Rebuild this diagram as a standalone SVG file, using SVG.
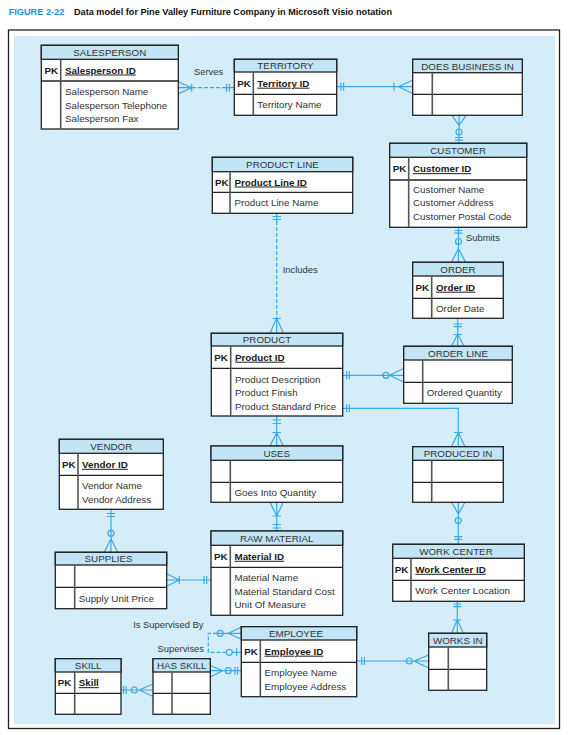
<svg xmlns="http://www.w3.org/2000/svg" width="568" height="735" viewBox="0 0 568 735">
<style>
.bx{fill:#fff;stroke:#222;stroke-width:1.3}
.hd{fill:#c2e5f6;stroke:#222;stroke-width:1.3}
.ln{stroke:#222;stroke-width:1.3}
.dv{stroke:#555;stroke-width:1.6}
.t{font-family:"Liberation Sans",Arial,sans-serif;font-size:9.8px;fill:#333}
.hc{text-anchor:middle}
.b{font-weight:bold;fill:#1a1a1a}
.u{text-decoration:underline}
.lb{font-family:"Liberation Sans",Arial,sans-serif;font-size:9.4px;fill:#333}
.c{stroke:#3aa9e4;stroke-width:1.2;fill:none}
.d{stroke-dasharray:4 2}
.o{stroke:#3aa9e4;stroke-width:1.2;fill:none}
</style>
<rect x="0" y="0" width="568" height="735" fill="#fff"/>
<text x="8.7" y="15.2" font-family="Liberation Sans,Arial,sans-serif" font-weight="bold" font-size="8.6" fill="#1e8fd6" textLength="55.6" lengthAdjust="spacingAndGlyphs">FIGURE 2-22</text>
<text x="74" y="15.2" font-family="Liberation Sans,Arial,sans-serif" font-weight="bold" font-size="8.6" fill="#111" textLength="318" lengthAdjust="spacingAndGlyphs">Data model for Pine Valley Furniture Company in Microsoft Visio notation</text>
<rect x="8.5" y="30" width="551" height="698.5" fill="#fff" stroke="#222" stroke-width="1.3"/>
<rect x="14" y="36" width="541" height="688" fill="#d4edf9"/>

<g id="connectors">
<!-- Serves -->
<path class="c d" d="M192,87.7 H226"/>
<path class="c" d="M178.3,87.7 H192 M178.3,81.7 L191.7,87.7 L178.3,93.7 M191.7,83.7 V91.7 M225,87.7 H234.3 M226.5,83.7 V91.7 M229.3,83.7 V91.7"/>
<!-- Territory - Does business in -->
<path class="c" d="M336.7,86.7 H412.7 M341,82.7 V90.7 M343.6,82.7 V90.7 M394,82.7 V90.7 M412.7,80 L398.5,86.7 L412.7,93.5"/>
<!-- DBI - Customer -->
<path class="c" d="M459,115.3 V143.3 M452,115.3 L459,125.5 L466,115.3 M455,137.5 H463 M455,140.2 H463"/>
<circle class="o" cx="459" cy="132" r="3"/>
<!-- Customer - Order (Submits) -->
<path class="c" d="M458.5,227.3 V262.3 M454.5,230.5 H462.5 M454.5,233.2 H462.5 M451.5,262.3 L458.5,248.5 L465.5,262.3"/>
<circle class="o" cx="458.5" cy="241.5" r="3"/>
<!-- Includes -->
<path class="c d" d="M276.7,221 V318"/>
<path class="c" d="M276.7,213.3 V221 M272.5,216.5 H281 M272.5,219.5 H281 M276.7,318 V333.3 M270,333.3 L276.7,318 L283.3,333.3 M272.5,318.5 H281"/>
<!-- Product - Order line -->
<path class="c" d="M342.7,375.3 H403.7 M346.7,371.3 V379.3 M349.4,371.3 V379.3 M403.7,368.5 L389.5,375.3 L403.7,382"/>
<circle class="o" cx="386" cy="375.3" r="3"/>
<!-- Order - Order line -->
<path class="c" d="M457.7,318.3 V346.3 M453.5,324 H462 M453.5,326.7 H462 M451.5,346.3 L457.7,334 L464,346.3 M453.5,334.5 H462"/>
<!-- Product - Produced in -->
<path class="c" d="M342.7,408.3 H458.3 V446.7 M346.7,404.3 V412.3 M349.4,404.3 V412.3 M451.5,446.7 L458.3,432.5 L465,446.7 M454,432.5 H462.5"/>
<!-- Product - Uses -->
<path class="c" d="M276.7,416 V446 M272.5,420 H281 M272.5,423.5 H281 M270,446 L276.7,432.5 L283.3,446 M272.5,432.5 H281"/>
<!-- Uses - Raw material -->
<path class="c" d="M276.7,502.3 V531 M270,502.3 L276.7,516 L283.3,502.3 M272.5,516 H281 M272.5,524.5 H281 M272.5,528 H281"/>
<!-- Vendor - Supplies -->
<path class="c" d="M111,509.3 V552.3 M107,513.5 H115 M107,516.5 H115 M104.3,552.3 L111,538.5 L117.7,552.3"/>
<circle class="o" cx="111" cy="533.3" r="3"/>
<!-- Supplies - Raw material -->
<path class="c" d="M166.7,580 H211 M166.7,573.8 L179.3,580 L166.7,586.2 M179.3,576 V584 M204,576 V584 M206.7,576 V584"/>
<!-- Produced in - Work center -->
<path class="c" d="M458.3,502.3 V544.3 M451.7,502.3 L458.3,514 L465,502.3 M454.3,536.7 H462.3 M454.3,539.4 H462.3"/>
<circle class="o" cx="458.3" cy="520.5" r="3"/>
<!-- Work center - Works in -->
<path class="c" d="M457.3,601.3 V633.3 M453.3,604 H461.3 M453.3,606.7 H461.3 M451.7,633.3 L457.3,619.5 L463.3,633.3 M453.3,620 H461.3"/>
<!-- Employee - Works in -->
<path class="c" d="M356.7,661 H428.7 M361.7,657 V665 M364.4,657 V665 M428.7,655 L414,661 L428.7,668"/>
<circle class="o" cx="409.3" cy="661" r="3"/>
<!-- Employee supervises (unary) -->
<path class="c d" d="M217,633.3 H208.3 V652.3 H226"/>
<path class="c" d="M217,633.3 H241.3 M241.3,627.3 L228.3,633.3 L241.3,639.3 M232,652.3 H241.3 M236.7,648.3 V656.3"/>
<circle class="o" cx="220.3" cy="633.3" r="3"/>
<circle class="o" cx="229.3" cy="652.3" r="3"/>
<!-- Has skill - Employee -->
<path class="c" d="M210.3,670.7 H241.3 M210.3,665.5 L222.7,670.7 L210.3,677 M235,666.7 V674.7 M237.6,666.7 V674.7"/>
<circle class="o" cx="228.3" cy="670.7" r="3"/>
<!-- Skill - Has skill -->
<path class="c" d="M121,690 H153 M123.5,686 V694 M126.1,686 V694 M153,684 L139.3,690 L153,696.5"/>
<circle class="o" cx="134.3" cy="690" r="3"/>
<text class="lb" x="194" y="75">Serves</text>
<text class="lb" x="466" y="240.8">Submits</text>
<text class="lb" x="282.7" y="272.8">Includes</text>
<text class="lb" x="203.5" y="627.8" text-anchor="end">Is Supervised By</text>
<text class="lb" x="204" y="652.2" text-anchor="end">Supervises</text>
</g>

<g id="salesperson">
<rect class="bx" x="41.3" y="45.3" width="137" height="83.7"/>
<rect class="hd" x="41.3" y="45.3" width="137" height="14"/>
<line class="ln" x1="41.3" y1="81" x2="178.3" y2="81"/>
<line class="dv" x1="60.7" y1="59.3" x2="60.7" y2="129"/>
<text class="t hc" x="109.8" y="56">SALESPERSON</text>
<text class="t b" x="44.5" y="73.5">PK</text>
<text class="t b u" x="65" y="73.5">Salesperson ID</text>
<text class="t" x="65" y="95.1">Salesperson Name</text>
<text class="t" x="65" y="108.5">Salesperson Telephone</text>
<text class="t" x="65" y="121.9">Salesperson Fax</text>
</g>

<g id="territory">
<rect class="bx" x="234.3" y="59.3" width="102.4" height="56"/>
<rect class="hd" x="234.3" y="59.3" width="102.4" height="12.7"/>
<line class="ln" x1="234.3" y1="94.3" x2="336.7" y2="94.3"/>
<line class="dv" x1="253.3" y1="72" x2="253.3" y2="115.3"/>
<text class="t hc" x="285.5" y="69.3">TERRITORY</text>
<text class="t b" x="237.3" y="86.7">PK</text>
<text class="t b u" x="257.3" y="86.7">Territory ID</text>
<text class="t" x="257.3" y="108.3">Territory Name</text>
</g>

<g id="does-business-in">
<rect class="bx" x="412.7" y="59.3" width="109.6" height="56"/>
<rect class="hd" x="412.7" y="59.3" width="109.6" height="13.4"/>
<line class="ln" x1="412.7" y1="94.3" x2="522.3" y2="94.3"/>
<line class="dv" x1="432.3" y1="72.7" x2="432.3" y2="115.3"/>
<text class="t hc" x="467.5" y="69.6">DOES BUSINESS IN</text>
</g>

<g id="customer">
<rect class="bx" x="389.7" y="143.3" width="137" height="84"/>
<rect class="hd" x="389.7" y="143.3" width="137" height="14"/>
<line class="ln" x1="389.7" y1="180" x2="526.7" y2="180"/>
<line class="dv" x1="408.7" y1="157.3" x2="408.7" y2="227.3"/>
<text class="t hc" x="458.2" y="154">CUSTOMER</text>
<text class="t b" x="392.7" y="172.2">PK</text>
<text class="t b u" x="413" y="172.2">Customer ID</text>
<text class="t" x="413" y="192.8">Customer Name</text>
<text class="t" x="413" y="206.3">Customer Address</text>
<text class="t" x="413" y="219.7">Customer Postal Code</text>
</g>

<g id="product-line">
<rect class="bx" x="212.3" y="157.3" width="140.4" height="56"/>
<rect class="hd" x="212.3" y="157.3" width="140.4" height="14.4"/>
<line class="ln" x1="212.3" y1="192.3" x2="352.7" y2="192.3"/>
<line class="dv" x1="230" y1="171.7" x2="230" y2="213.3"/>
<text class="t hc" x="282.5" y="168">PRODUCT LINE</text>
<text class="t b" x="215" y="185.5">PK</text>
<text class="t b u" x="234.5" y="185.5">Product Line ID</text>
<text class="t" x="234.5" y="206.3">Product Line Name</text>
</g>

<g id="order">
<rect class="bx" x="412.7" y="262.3" width="90.6" height="56"/>
<rect class="hd" x="412.7" y="262.3" width="90.6" height="13.7"/>
<line class="ln" x1="412.7" y1="298.3" x2="503.3" y2="298.3"/>
<line class="dv" x1="431.7" y1="276" x2="431.7" y2="318.3"/>
<text class="t hc" x="458" y="272.7">ORDER</text>
<text class="t b" x="415.5" y="290.7">PK</text>
<text class="t b u" x="436" y="290.7">Order ID</text>
<text class="t" x="436" y="311.8">Order Date</text>
</g>

<g id="product">
<rect class="bx" x="211.3" y="333.3" width="131.4" height="82.7"/>
<rect class="hd" x="211.3" y="333.3" width="131.4" height="12.7"/>
<line class="ln" x1="211.3" y1="368.3" x2="342.7" y2="368.3"/>
<line class="dv" x1="230.7" y1="346" x2="230.7" y2="416"/>
<text class="t hc" x="267" y="343.3">PRODUCT</text>
<text class="t b" x="214.3" y="360.7">PK</text>
<text class="t b u" x="235" y="360.7">Product ID</text>
<text class="t" x="235" y="382.8">Product Description</text>
<text class="t" x="235" y="396.2">Product Finish</text>
<text class="t" x="235" y="409.6">Product Standard Price</text>
</g>

<g id="order-line">
<rect class="bx" x="403.7" y="346.3" width="108.6" height="57"/>
<rect class="hd" x="403.7" y="346.3" width="108.6" height="13.7"/>
<line class="ln" x1="403.7" y1="382.3" x2="512.3" y2="382.3"/>
<line class="dv" x1="422.7" y1="360" x2="422.7" y2="403.3"/>
<text class="t hc" x="458" y="356.8">ORDER LINE</text>
<text class="t" x="426.7" y="396.3">Ordered Quantity</text>
</g>

<g id="vendor">
<rect class="bx" x="59.3" y="439.3" width="104" height="70"/>
<rect class="hd" x="59.3" y="439.3" width="104" height="14"/>
<line class="ln" x1="59.3" y1="475.3" x2="163.3" y2="475.3"/>
<line class="dv" x1="78" y1="453.3" x2="78" y2="509.3"/>
<text class="t hc" x="111.3" y="450">VENDOR</text>
<text class="t b" x="62" y="467.8">PK</text>
<text class="t b u" x="82" y="467.8">Vendor ID</text>
<text class="t" x="82" y="489">Vendor Name</text>
<text class="t" x="82" y="502.6">Vendor Address</text>
</g>

<g id="uses">
<rect class="bx" x="211" y="446" width="131.7" height="56.3"/>
<rect class="hd" x="211" y="446" width="131.7" height="14.3"/>
<line class="ln" x1="211" y1="482.3" x2="342.7" y2="482.3"/>
<line class="dv" x1="230.3" y1="460.3" x2="230.3" y2="502.3"/>
<text class="t hc" x="276.8" y="456.7">USES</text>
<text class="t" x="234.5" y="495.8">Goes Into Quantity</text>
</g>

<g id="produced-in">
<rect class="bx" x="412.7" y="446.7" width="90.6" height="55.6"/>
<rect class="hd" x="412.7" y="446.7" width="90.6" height="13.6"/>
<line class="ln" x1="412.7" y1="482.3" x2="503.3" y2="482.3"/>
<line class="dv" x1="431.7" y1="460.3" x2="431.7" y2="502.3"/>
<text class="t hc" x="458" y="457">PRODUCED IN</text>
</g>

<g id="raw-material">
<rect class="bx" x="211" y="531" width="131.7" height="84.3"/>
<rect class="hd" x="211" y="531" width="131.7" height="14.3"/>
<line class="ln" x1="211" y1="567.3" x2="342.7" y2="567.3"/>
<line class="dv" x1="230.3" y1="545.3" x2="230.3" y2="615.3"/>
<text class="t hc" x="276.8" y="541.7">RAW MATERIAL</text>
<text class="t b" x="214" y="559.8">PK</text>
<text class="t b u" x="234.5" y="559.8">Material ID</text>
<text class="t" x="234.5" y="581">Material Name</text>
<text class="t" x="234.5" y="594.5">Material Standard Cost</text>
<text class="t" x="234.5" y="607.9">Unit Of Measure</text>
</g>

<g id="supplies">
<rect class="bx" x="55.3" y="552.3" width="111.4" height="56.4"/>
<rect class="hd" x="55.3" y="552.3" width="111.4" height="12.7"/>
<line class="ln" x1="55.3" y1="587.3" x2="166.7" y2="587.3"/>
<line class="dv" x1="74.7" y1="565" x2="74.7" y2="608.7"/>
<text class="t hc" x="108.5" y="562.2">SUPPLIES</text>
<text class="t" x="78.7" y="601.5">Supply Unit Price</text>
</g>

<g id="work-center">
<rect class="bx" x="392.7" y="544.3" width="131.6" height="57"/>
<rect class="hd" x="392.7" y="544.3" width="131.6" height="14"/>
<line class="ln" x1="392.7" y1="580.3" x2="524.3" y2="580.3"/>
<line class="dv" x1="411" y1="558.3" x2="411" y2="601.3"/>
<text class="t hc" x="456" y="554.9">WORK CENTER</text>
<text class="t b" x="394.8" y="572.8">PK</text>
<text class="t b u" x="415.3" y="572.8">Work Center ID</text>
<text class="t" x="415.3" y="594.3">Work Center Location</text>
</g>

<g id="employee">
<rect class="bx" x="241.3" y="626.7" width="115.4" height="70"/>
<rect class="hd" x="241.3" y="626.7" width="115.4" height="13.3"/>
<line class="ln" x1="241.3" y1="662.3" x2="356.7" y2="662.3"/>
<line class="dv" x1="260.3" y1="640" x2="260.3" y2="696.7"/>
<text class="t hc" x="296" y="637">EMPLOYEE</text>
<text class="t b" x="244.3" y="654.7">PK</text>
<text class="t b u" x="264.5" y="654.7">Employee ID</text>
<text class="t" x="264.5" y="675.8">Employee Name</text>
<text class="t" x="264.5" y="690.2">Employee Address</text>
</g>

<g id="works-in">
<rect class="bx" x="428.7" y="633.3" width="58" height="57"/>
<rect class="hd" x="428.7" y="633.3" width="58" height="13.7"/>
<line class="ln" x1="428.7" y1="669.3" x2="486.7" y2="669.3"/>
<line class="dv" x1="448.3" y1="647" x2="448.3" y2="690.3"/>
<text class="t hc" x="457.7" y="643.8">WORKS IN</text>
</g>

<g id="skill">
<rect class="bx" x="55.3" y="658.7" width="65.7" height="55.6"/>
<rect class="hd" x="55.3" y="658.7" width="65.7" height="13.3"/>
<line class="ln" x1="55.3" y1="693.3" x2="121" y2="693.3"/>
<line class="dv" x1="74.7" y1="672" x2="74.7" y2="714.3"/>
<text class="t hc" x="88.2" y="669">SKILL</text>
<text class="t b" x="57.8" y="686.2">PK</text>
<text class="t b u" x="78.7" y="686.2">Skill</text>
</g>

<g id="has-skill">
<rect class="bx" x="153" y="658.7" width="57.3" height="55.6"/>
<rect class="hd" x="153" y="658.7" width="57.3" height="13.3"/>
<line class="ln" x1="153" y1="693.3" x2="210.3" y2="693.3"/>
<line class="dv" x1="172" y1="672" x2="172" y2="714.3"/>
<text class="t hc" x="181.7" y="669">HAS SKILL</text>
</g>
</svg>
